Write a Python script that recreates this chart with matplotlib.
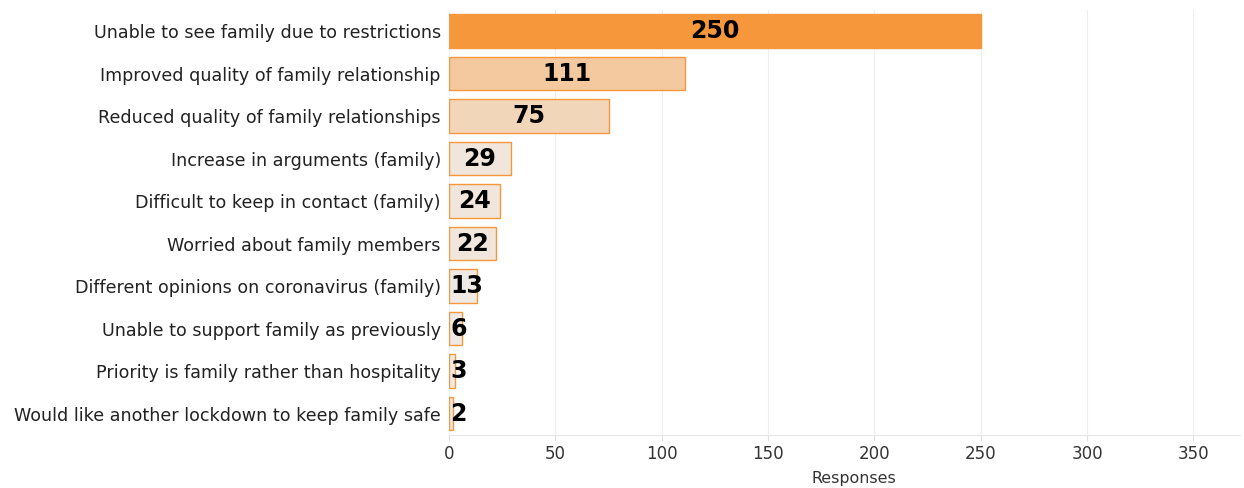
import matplotlib.pyplot as plt

plt.rcParams['font.family'] = ['DejaVu Sans']

categories = [
    'Unable to see family due to restrictions',
    'Improved quality of family relationship',
    'Reduced quality of family relationships',
    'Increase in arguments (family)',
    'Difficult to keep in contact (family)',
    'Worried about family members',
    'Different opinions on coronavirus (family)',
    'Unable to support family as previously',
    'Priority is family rather than hospitality',
    'Would like another lockdown to keep family safe',
]
responses = [250, 111, 75, 29, 24, 22, 13, 6, 3, 2]
bar_colors = ['#F5973A', '#F4C9A0', '#F2D6BA', '#F1E6DC', '#F1E6DC',
              '#F1E6DC', '#EFEAE6', '#EFEAE6', '#EFEAE6', '#EFEAE6']
edge_color = '#F5973A'

fig = plt.figure(figsize=(12.44, 4.88), dpi=100)
ax = fig.add_axes([0.361, 0.109, 0.636, 0.871])

y = list(range(len(categories)))
ax.barh(y, responses, height=0.78, color=bar_colors, edgecolor=edge_color, linewidth=1)
ax.set_yticks(y)
ax.set_yticklabels(categories, fontsize=12.6, color='#222222')
ax.set_ylim(len(categories) - 0.5, -0.5)
ax.set_xlim(0, 372)
ax.set_xticks(range(0, 351, 50))
ax.tick_params(axis='x', labelsize=12, colors='#333333', length=4, color='#dddddd', pad=3)
ax.tick_params(axis='y', length=0, pad=6)
ax.grid(axis='x', color='#eeeeee', linewidth=0.8)
ax.set_axisbelow(True)
for side in ['top', 'right', 'left']:
    ax.spines[side].set_visible(False)
ax.spines['bottom'].set_color('#e6e6e6')

ax.set_xlabel('Responses', fontsize=11.4, color='#333333')
ax.xaxis.set_label_coords(0.511, -0.085)

# value labels, centred in the bar but kept inside the pane
fig.canvas.draw()
renderer = fig.canvas.get_renderer()
px_per_unit = ax.transData.transform((1, 0))[0] - ax.transData.transform((0, 0))[0]
for i, v in enumerate(responses):
    t = ax.text(v / 2, i, str(v), ha='center', va='center',
                fontsize=17, fontweight='bold', color='black')
    half = t.get_window_extent(renderer).width / 2 / px_per_unit
    if v / 2 < half + 0.5:
        t.set_x(half + 0.5)

fig.savefig('out.png', dpi=100)
